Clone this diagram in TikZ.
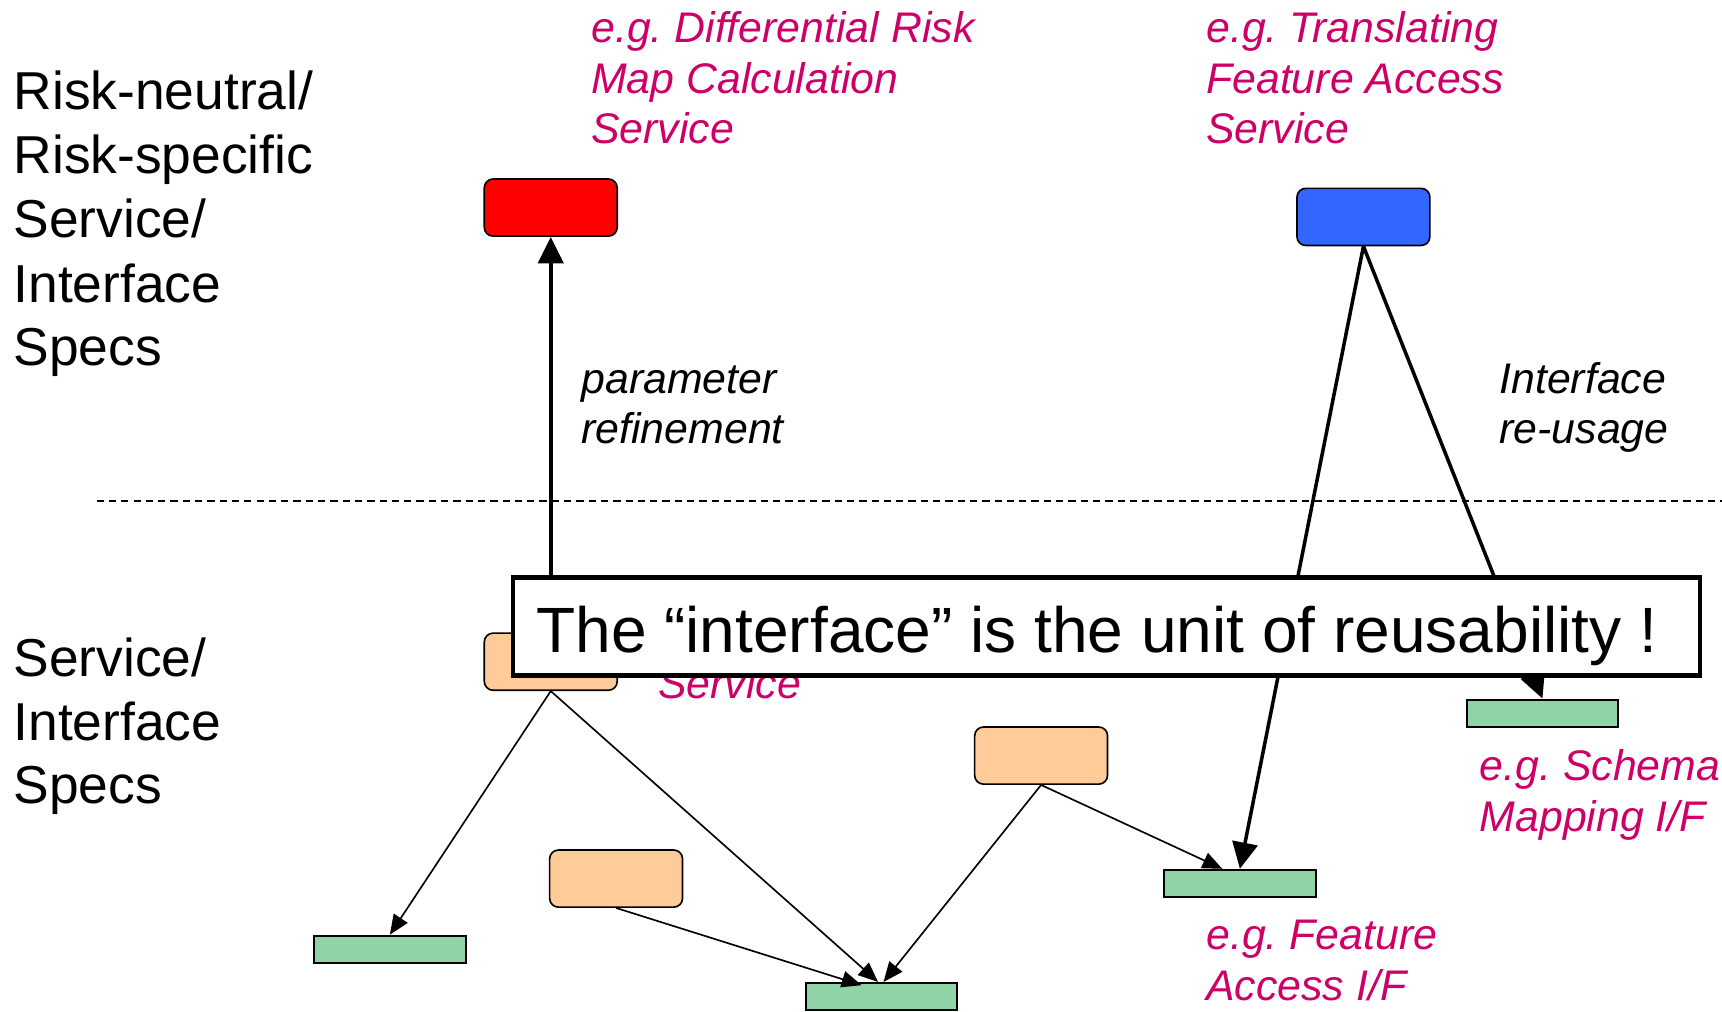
\documentclass[tikz,border=0pt]{standalone}
\usepackage{fontspec}
\setmainfont{Liberation Sans}
\usetikzlibrary{arrows.meta,calc}
\definecolor{specpink}{HTML}{CC0066}
\definecolor{riskred}{HTML}{FF0000}
\definecolor{transblue}{HTML}{3366FF}
\definecolor{svcorange}{HTML}{FFCC99}
\definecolor{ifgreen}{HTML}{8FD3A6}
\frenchspacing
\begin{document}
\begin{tikzpicture}[x=0.5bp,y=-0.5bp,
  svcbox/.style={draw=black, line width=0.75bp, rounded corners=4bp, inner sep=0pt,
                 minimum width=60.5bp, minimum height=26bp},
  ifbox/.style={draw=black, line width=0.9bp, fill=ifgreen, inner sep=0pt,
                minimum width=69bp, minimum height=12.5bp},
  heavy/.style={line width=1.6bp, -{Triangle[length=12bp,width=11.5bp]}},
  light/.style={line width=0.75bp, -{Triangle[length=9bp,width=7.5bp]}},
  level/.style={font=\fontsize{24.3bp}{29bp}\selectfont, anchor=base west, inner sep=0pt},
  example/.style={font=\fontsize{19.5bp}{23bp}\selectfont\itshape, text=specpink,
                  anchor=base west, inner sep=0pt},
  remark/.style={font=\fontsize{19.5bp}{23bp}\selectfont\itshape, anchor=base west, inner sep=0pt},
  notebox/.style={draw=black, line width=2bp, fill=white, inner sep=0pt,
                  minimum width=540.5bp, minimum height=44.5bp},
  notetext/.style={font=\fontsize{29.15bp}{35bp}\selectfont, anchor=base west, inner sep=0pt},
]
\useasboundingbox (0,0) rectangle (1568,921);

% level labels
\node[level] (tA) at (12,100) {Risk-neutral/};
\node[level] (tB) at (12,158) {Risk-specific};
\node[level] (tC) at (12,216) {Service/};
\node[level] (tD) at (12,275) {Interface};
\node[level] (tE) at (12,333) {Specs};
\node[level] (bA) at (12,616) {Service/};
\node[level] (bB) at (12,674) {Interface};
\node[level] (bC) at (12,732) {Specs};

% separator between the two levels
\coordinate (sepL) at (88,456);
\coordinate (sepR) at (1568,456);
\draw[line width=0.75bp, dash pattern=on 3.3bp off 2.3bp] (sepL) -- (sepR);

% services and interfaces
\node[svcbox, fill=riskred] (red) at (501.5,189) {};
\node[svcbox, fill=transblue] (blue) at (1241.5,197.5) {};
\node[svcbox, fill=svcorange] (o1) at (501.5,602.5) {};
\node[svcbox, fill=svcorange] (o2) at (948,688) {};
\node[svcbox, fill=svcorange] (o3) at (561,800) {};
\node[ifbox] (g1) at (355,864.5) {};
\node[ifbox] (g2) at (802.5,907.5) {};
\node[ifbox] (g3) at (1129,804.5) {};
\node[ifbox] (g4) at (1404.5,649.5) {};

% examples
\node[example] (e1a) at (538,39) {e.g. Differential Risk};
\node[example] (e1b) at (538,85) {Map Calculation};
\node[example] (e1c) at (538,131) {Service};
\node[example] (e2a) at (1098,39) {e.g. Translating};
\node[example] (e2b) at (1098,85) {Feature Access};
\node[example] (e2c) at (1098,131) {Service};
\node[example] (e3) at (599,636) {Service};
\node[example] (e4a) at (1347,711) {e.g. Schema};
\node[example] (e4b) at (1347,757) {Mapping I/F};
\node[example] (e5a) at (1098,865) {e.g. Feature};
\node[example] (e5b) at (1098,911) {Access I/F};

\node[remark] (r1a) at (529,358) {parameter};
\node[remark] (r1b) at (529,404) {refinement};
\node[remark] (r2a) at (1365,358) {Interface};
\node[remark] (r2b) at (1365,404) {re-usage};

% dependencies between the lower-level services and interfaces
\draw[light] (o1.south) -- (g1.north);
\draw[light] (o1.south) -- ($(g2.north)+(-3,0)$);
\draw[light] (o3.south) -- ($(g2.north)+(-18,3)$);
\draw[light] (o2.south) -- ($(g2.north)+(2,0)$);
\draw[light] (o2.south) -- ($(g3.north)+(-16,0)$);

% refinement and re-usage
\draw[heavy] (o1.north) -- (red.south);
\draw[heavy] (blue.south) -- (g3.north);
\draw[heavy] (blue.south) -- (g4.north);

% key message
\node[notebox] (note) at (1007.5,570.5) {};
\node[notetext] (notemsg) at (488,594) {The “interface” is the unit of reusability !};
\end{tikzpicture}
\end{document}
